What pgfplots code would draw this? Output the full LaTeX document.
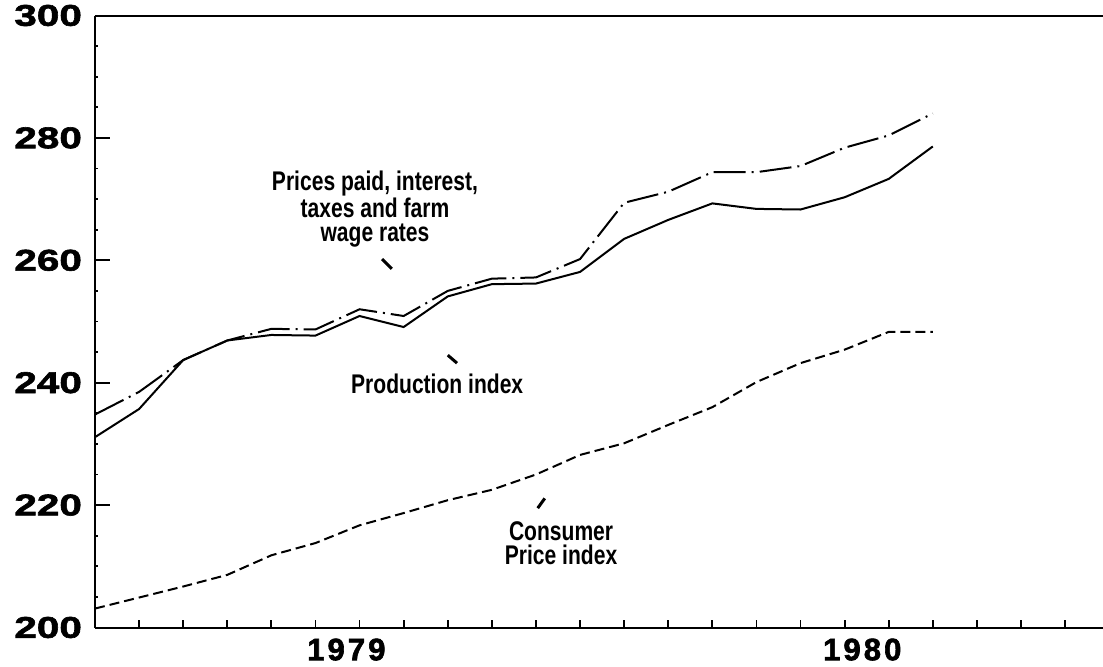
\documentclass[border=0pt]{standalone}
\usepackage{fontspec}
\usepackage{pgfplots}
\pgfplotsset{compat=1.18}
\setmainfont{Liberation Sans}
\newfontfamily\tickfont[FakeStretch=1.35,FakeBold=2]{Liberation Sans}
\newfontfamily\yearfont[FakeStretch=1.0,FakeBold=2,LetterSpace=10]{Liberation Sans}
\newfontfamily\labfont[FakeStretch=0.78]{Liberation Sans}

\pgfplotstableread{
m v
0 231.1
1 235.7
2 243.7
3 246.9
4 247.8
5 247.7
6 250.9
7 249.1
8 254.1
9 256.1
10 256.2
11 258.1
12 263.5
13 266.6
14 269.3
15 268.4
16 268.3
17 270.3
18 273.3
19 278.6
}\prodtab

\pgfplotstableread{
m v
0 234.8
1 238.5
2 243.7
3 246.9
4 248.8
5 248.7
6 252.0
7 250.9
8 255.0
9 257.0
10 257.2
11 260.2
12 269.4
13 271.2
14 274.4
15 274.4
16 275.4
17 278.4
18 280.4
19 284.0
}\pricetab

\pgfplotstableread{
m v
0 203.1
1 204.9
2 206.7
3 208.6
4 211.8
5 213.8
6 216.7
7 218.7
8 220.8
9 222.5
10 225.0
11 228.2
12 230.1
13 233.1
14 236.0
15 240.1
16 243.2
17 245.4
18 248.3
19 248.3
}\cpitab

\begin{document}
\begin{tikzpicture}
\useasboundingbox (0,0) rectangle (551.5pt,333pt);
\begin{axis}[
  at={(47.5pt,19.25pt)}, anchor=south west,
  scale only axis, width=504pt, height=306pt,
  xmin=0, xmax=22.86, ymin=200, ymax=300,
  axis x line=box, axis y line=left,
  axis line style={-, line width=1pt},
  xtick={1,...,22}, xticklabels={}, xtick pos=left,
  ytick={200,220,...,300}, ytick pos=left,
  tick align=inside, major tick length=4pt,
  tick style={line width=0.9pt, black},
  extra y ticks={220,240,260,280}, extra y tick labels={},
  extra y tick style={major tick length=7.5pt, tick style={line width=1pt}},
  minor y tick num=3, minor tick length=1.5pt,
  yticklabel style={font=\tickfont\bfseries\fontsize{15pt}{16pt}\selectfont, xshift=-3pt},
  /pgf/number format/assume math mode=true,
  clip=false,
]
\addplot[black, line width=1pt] table[x=m,y=v] {\prodtab};
\addplot[black, line width=1pt, dash pattern=on 16pt off 3pt on 1pt off 3pt] table[x=m,y=v] {\pricetab};
\addplot[black, line width=1pt, dash pattern=on 5pt off 2.5pt] table[x=m,y=v] {\cpitab};

\node[font=\labfont\bfseries\fontsize{13.5pt}{12pt}\selectfont, align=center] at (axis cs:6.35,268.4) {Prices paid, interest,\\taxes and farm\\wage rates};
\node[font=\labfont\bfseries\fontsize{13.5pt}{12pt}\selectfont] at (axis cs:7.76,239.8) {Production index};
\node[font=\labfont\bfseries\fontsize{13.5pt}{12pt}\selectfont, align=center] at (axis cs:10.57,213.8) {Consumer\\Price index};

\draw[line width=1.5pt] (axis cs:6.51,260.2) -- (axis cs:6.73,258.6);
\draw[line width=1.5pt] (axis cs:8.0,244.5) -- (axis cs:8.21,243.2);
\draw[line width=1.5pt] (axis cs:10.04,219.5) -- (axis cs:10.2,221.1);

\node[anchor=north, font=\yearfont\bfseries\fontsize{15.5pt}{16pt}\selectfont, yshift=-2pt] at (axis cs:5.7,200) {1979};
\node[anchor=north, font=\yearfont\bfseries\fontsize{15.5pt}{16pt}\selectfont, yshift=-2pt] at (axis cs:17.4,200) {1980};
\end{axis}
\end{tikzpicture}
\end{document}
